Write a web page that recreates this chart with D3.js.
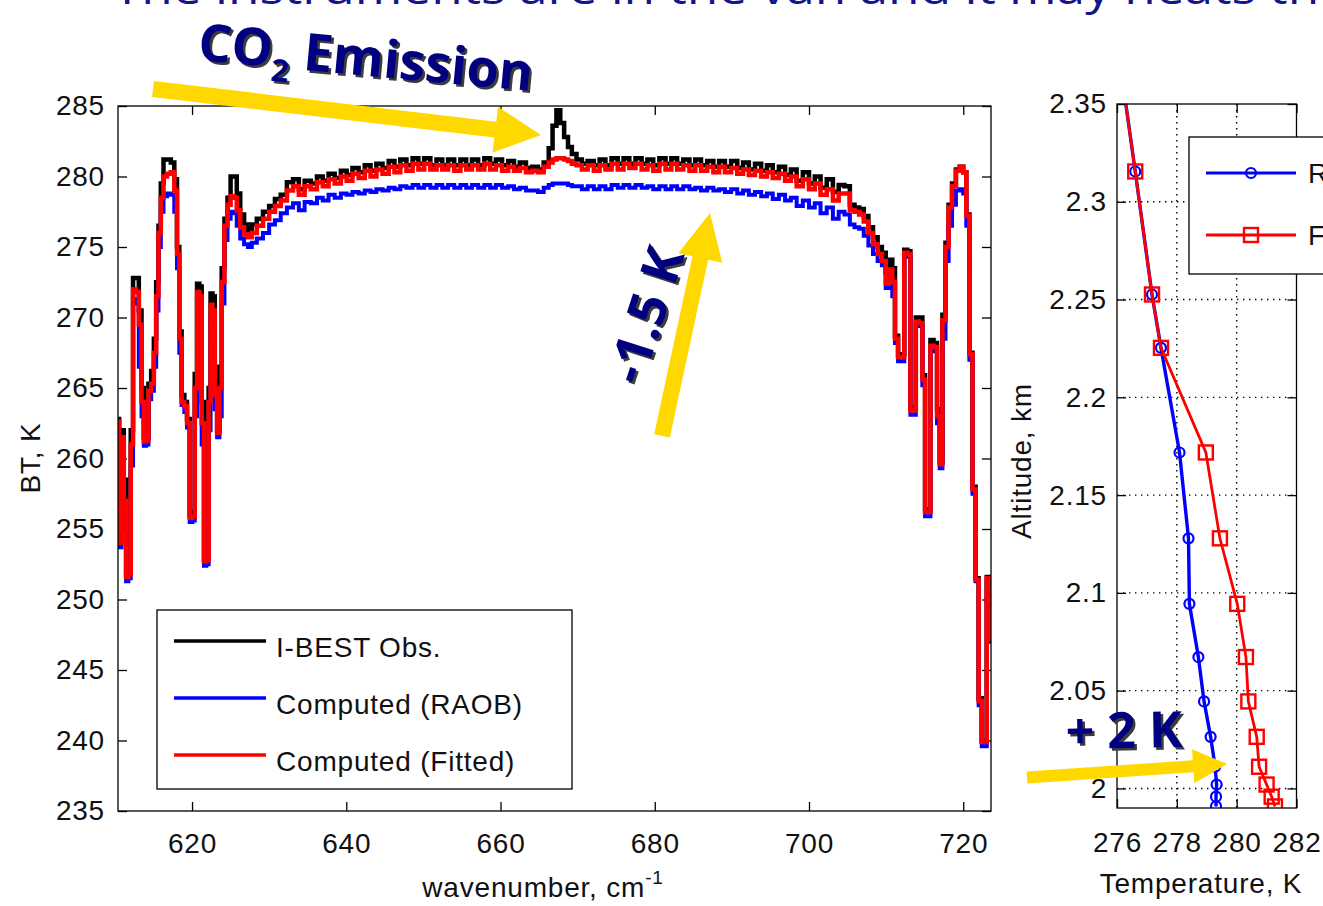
<!DOCTYPE html>
<html>
<head>
<meta charset="utf-8">
<script src="https://cdnjs.cloudflare.com/ajax/libs/d3/7.8.5/d3.min.js"></script>
<style>
  body { margin: 0; background: #fff; }
  svg { display: block; }
</style>
</head>
<body>
<svg id="fig" width="1323" height="906"></svg>
<script>
// ---- spectrum (left panel) ----
// three blocks: left absorption edge, flat CO2 band, right absorption edge
var wavenumber = [
  610.4, 610.7, 611.0, 611.3, 611.6, 611.9, 612.2, 612.5, 612.9, 613.3,
  613.6, 613.9, 614.2, 614.5, 614.9, 615.2, 615.5, 615.8, 616.1, 616.5,
  617.0, 617.5, 617.9, 618.2, 618.5, 618.8, 619.2, 619.5, 619.9, 620.2,
  620.5, 620.8, 621.1, 621.4, 621.7, 622.0, 622.3, 622.5, 622.8, 623.1,
  623.4, 623.7, 624.0, 624.4, 624.8, 625.2, 625.6, 626.0, 626.5, 627.0,
  627.5, 628.0,
  628.8, 629.6, 630.4, 631.1, 631.9, 632.7, 633.5, 634.2, 635.0, 635.8,
  636.6, 637.3, 638.1, 638.9, 639.7, 640.4, 641.2, 642.0, 642.8, 643.5,
  644.3, 645.1, 645.9, 646.6, 647.4, 648.2, 649.0, 649.7, 650.5, 651.3,
  652.1, 652.8, 653.6, 654.4, 655.2, 655.9, 656.7, 657.5, 658.3, 659.0,
  659.8, 660.6, 661.4, 662.1, 662.9, 663.7, 664.5, 665.2, 666.0, 666.5,
  667.0, 667.5, 668.0, 668.5, 669.0, 669.5, 670.2, 670.9, 671.7, 672.5,
  673.2, 674.0, 674.8, 675.6, 676.3, 677.1, 677.9, 678.7, 679.4, 680.2,
  681.0, 681.8, 682.5, 683.3, 684.1, 684.9, 685.6, 686.4, 687.2, 688.0,
  688.7, 689.5, 690.3, 691.1, 691.8, 692.6, 693.4, 694.2, 694.9, 695.7,
  696.5, 697.3, 698.0, 698.8, 699.6, 700.4, 701.1, 701.9, 702.7, 703.5,
  704.2, 705.0,
  705.6, 706.2, 706.8, 707.4, 708.0, 708.6, 709.2, 709.7, 710.2, 710.6,
  711.0, 711.3, 711.8, 712.2, 712.5, 713.0, 713.3, 713.7, 714.0, 714.5,
  714.9, 715.2, 715.6, 715.9, 716.4, 716.8, 717.1, 717.5, 717.9, 718.3,
  718.8, 719.3, 719.8, 720.2, 720.6, 721.0, 721.4, 721.8, 722.2, 722.6,
  722.9, 723.2, 723.6
];

var obsBT = [  // I-BEST Obs.
  262.8, 255.0, 262.0, 258.5, 251.8, 252.0, 262.0, 272.8, 272.8, 270.5,
  265.0, 261.5, 261.5, 265.3, 266.2, 268.5, 272.5, 276.5, 279.5, 281.2,
  281.2, 281.0, 279.8, 275.0, 269.0, 264.5, 264.0, 262.8, 256.0, 256.2,
  266.0, 272.4, 272.2, 264.0, 252.8, 253.0, 265.0, 271.7, 271.5, 265.5,
  262.0, 266.5, 273.5, 277.0, 278.5, 280.0, 280.0, 278.8, 277.3, 276.6,
  276.2, 276.6,
  277.0, 277.5, 277.9, 278.4, 278.7, 279.6, 279.8, 279.1, 279.7, 279.5,
  280.0, 279.7, 280.2, 279.9, 280.4, 280.1, 280.6, 280.3, 280.8, 280.4,
  280.9, 280.6, 281.1, 280.7, 281.2, 280.8, 281.3, 280.9, 281.3, 280.8,
  281.2, 280.8, 281.2, 280.8, 281.2, 280.8, 281.2, 280.8, 281.3, 280.9,
  281.2, 280.8, 281.1, 280.7, 281.0, 280.6, 280.7, 280.5, 281.0, 282.0,
  283.6, 284.7, 283.8, 282.8, 282.1, 281.6, 281.2, 280.9, 281.1, 280.8,
  281.2, 280.8, 281.3, 280.9, 281.3, 280.9, 281.3, 280.9, 281.2, 280.8,
  281.3, 280.9, 281.3, 280.9, 281.2, 280.8, 281.2, 280.8, 281.1, 280.7,
  281.1, 280.7, 281.1, 280.6, 281.0, 280.5, 280.9, 280.4, 280.8, 280.3,
  280.7, 280.1, 280.5, 279.7, 280.3, 279.5, 280.0, 279.2, 279.8, 278.9,
  279.4, 279.3,
  278.0, 277.8, 277.7, 277.2, 276.4, 275.7, 275.0, 274.6, 273.2, 274.1,
  273.5, 268.7, 267.3, 267.4, 274.8, 274.7, 263.6, 263.6, 270.0, 270.0,
  265.9, 256.4, 256.4, 268.4, 268.2, 263.5, 259.8, 270.2, 275.3, 278.0,
  279.5, 280.5, 280.7, 280.3, 277.3, 267.5, 258.0, 251.5, 243.0, 240.0,
  240.0, 251.6, 247.5
];

var raobBT = [  // Computed (RAOB)
  261.5, 253.7, 259.0, 255.5, 251.3, 251.5, 259.5, 271.3, 271.0, 266.5,
  263.0, 260.9, 261.0, 264.2, 264.8, 266.5, 270.5, 275.0, 277.5, 278.6,
  278.8, 278.7, 277.5, 273.5, 267.5, 263.8, 263.3, 262.2, 255.5, 255.6,
  263.0, 271.0, 270.8, 261.0, 252.4, 252.5, 262.0, 270.2, 269.8, 263.5,
  261.5, 263.0, 271.0, 275.5, 277.0, 277.5, 277.4, 276.5, 275.6, 275.2,
  275.0, 275.3,
  275.6, 276.0, 276.6, 276.9, 277.4, 277.8, 278.1, 277.6, 278.2, 278.1,
  278.5, 278.3, 278.7, 278.5, 278.8, 278.7, 278.9, 278.8, 279.0, 278.9,
  279.1, 279.0, 279.2, 279.1, 279.3, 279.2, 279.4, 279.2, 279.4, 279.2,
  279.4, 279.2, 279.4, 279.2, 279.4, 279.2, 279.4, 279.2, 279.4, 279.2,
  279.4, 279.2, 279.3, 279.1, 279.2, 279.0, 279.0, 278.9, 279.2, 279.4,
  279.5, 279.5, 279.5, 279.5, 279.4, 279.3, 279.3, 279.1, 279.3, 279.1,
  279.3, 279.1, 279.4, 279.2, 279.4, 279.2, 279.4, 279.2, 279.3, 279.1,
  279.3, 279.1, 279.3, 279.1, 279.3, 279.1, 279.2, 279.0, 279.2, 279.0,
  279.1, 278.9, 279.1, 278.8, 279.0, 278.7, 278.9, 278.6, 278.8, 278.4,
  278.7, 278.3, 278.5, 277.9, 278.3, 277.8, 278.1, 277.4, 277.8, 277.0,
  277.5, 277.3,
  276.6, 276.4, 276.3, 275.8, 275.1, 274.5, 274.0, 273.7, 272.1, 272.8,
  271.5, 268.2, 266.9, 266.9, 274.4, 274.3, 263.1, 263.1, 269.5, 269.4,
  265.2, 255.9, 255.9, 267.7, 267.6, 262.5, 259.3, 268.5, 274.0, 276.5,
  278.0, 279.0, 279.1, 278.8, 276.5, 267.0, 257.5, 251.3, 242.5, 239.6,
  239.6, 251.2, 247.0
];

var fitBT = [  // Computed (Fitted)
  262.6, 254.0, 261.5, 257.0, 251.6, 251.8, 261.0, 272.0, 271.8, 269.5,
  264.0, 261.2, 261.3, 264.8, 265.3, 267.5, 271.5, 276.0, 278.5, 280.0,
  280.2, 280.3, 279.0, 274.5, 268.5, 264.0, 263.7, 262.5, 255.8, 255.9,
  265.0, 271.8, 271.5, 262.5, 252.7, 252.8, 264.0, 270.9, 270.5, 264.5,
  261.8, 265.0, 272.5, 276.5, 278.0, 278.6, 278.5, 277.6, 276.4, 275.9,
  275.7, 276.0,
  276.5, 277.0, 277.5, 277.9, 278.3, 279.0, 279.3, 278.7, 279.3, 279.1,
  279.6, 279.3, 279.8, 279.5, 280.0, 279.7, 280.2, 279.9, 280.4, 280.0,
  280.5, 280.2, 280.7, 280.3, 280.8, 280.4, 280.9, 280.5, 280.9, 280.5,
  280.8, 280.5, 280.8, 280.4, 280.8, 280.5, 280.8, 280.5, 280.9, 280.5,
  280.8, 280.4, 280.7, 280.4, 280.6, 280.3, 280.4, 280.3, 280.7, 281.0,
  281.2, 281.3, 281.3, 281.2, 281.1, 280.9, 280.8, 280.5, 280.8, 280.4,
  280.8, 280.5, 280.9, 280.5, 280.9, 280.6, 280.9, 280.5, 280.8, 280.4,
  280.9, 280.5, 280.9, 280.5, 280.8, 280.4, 280.8, 280.4, 280.7, 280.3,
  280.7, 280.3, 280.6, 280.2, 280.5, 280.1, 280.4, 280.0, 280.3, 279.9,
  280.2, 279.7, 280.0, 279.3, 279.8, 279.1, 279.5, 278.7, 279.1, 278.3,
  278.8, 278.8,
  277.6, 277.5, 277.3, 276.8, 276.0, 275.2, 274.5, 274.0, 272.4, 273.4,
  272.5, 268.5, 267.2, 267.2, 274.6, 274.5, 263.4, 263.4, 269.7, 269.6,
  265.6, 256.2, 256.2, 268.0, 267.9, 263.0, 259.6, 269.8, 275.0, 277.8,
  279.3, 280.4, 280.7, 280.3, 277.2, 267.4, 257.8, 251.4, 242.8, 239.9,
  239.9, 251.5, 247.2
];

var btTicks = [235, 240, 245, 250, 255, 260, 265, 270, 275, 280, 285];
var wnTicks = [620, 640, 660, 680, 700, 720];

// ---- temperature profile (right panel) ----
var altitude = [2.38, 2.3155, 2.2526, 2.2253, 2.1718, 2.1279, 2.0944, 2.0672, 2.0445, 2.0264, 2.0111, 2.0020, 1.9958, 1.9908];
var raobTemp = [276.02, 276.61, 277.17, 277.47, 278.09, 278.39, 278.42, 278.72, 278.91, 279.13, 279.28, 279.33, 279.31, 279.31];
var fitTemp  = [276.02, 276.61, 277.17, 277.47, 278.97, 279.44, 280.02, 280.31, 280.39, 280.67, 280.75, 281.00, 281.17, 281.28];
var altTicks = [2, 2.05, 2.1, 2.15, 2.2, 2.25, 2.3, 2.35];
var tempTicks = [276, 278, 280, 282];

var FONT = '"Liberation Sans", Arial, Helvetica, sans-serif';
var BOLD = '"Open Sans", "Noto Sans", sans-serif';
var NAVY = '#000080';
var YELLOW = '#ffd800';
var plain = function (d) { return String(d); };

var svg = d3.select('#fig');

// title of the slide, mostly cut off at the top
svg.append('text')
  .attr('x', 113).attr('y', 4)
  .attr('font-family', BOLD).attr('font-size', 44)
  .attr('fill', '#14148c')
  .attr('textLength', 1235).attr('lengthAdjust', 'spacingAndGlyphs')
  .text('The instruments are in the van and it may heats the');

function styleAxis(g) {
  g.select('.domain').remove();
  g.selectAll('.tick line').attr('stroke', '#000').attr('stroke-width', 1.3);
  g.selectAll('.tick text')
    .attr('font-family', FONT).attr('font-size', 28)
    .attr('letter-spacing', 0.8).attr('fill', '#111');
}

// ================= left panel =================
var x = d3.scaleLinear().domain([610.4, 723.6]).range([118, 991]);
var y = d3.scaleLinear().domain([235, 285]).range([811, 106]);

var left = svg.append('g');
left.append('clipPath').attr('id', 'clipL').append('rect')
  .attr('x', 118).attr('y', 106).attr('width', 873).attr('height', 705);

left.append('g').attr('transform', 'translate(0,811)')
  .call(d3.axisBottom(x).tickValues(wnTicks).tickFormat(plain).tickSize(-9).tickPadding(22)).call(styleAxis);
left.append('g').attr('transform', 'translate(0,106)')
  .call(d3.axisTop(x).tickValues(wnTicks).tickSize(-9).tickFormat('')).call(styleAxis);
left.append('g').attr('transform', 'translate(118,0)')
  .call(d3.axisLeft(y).tickValues(btTicks).tickFormat(plain).tickSize(-9).tickPadding(13)).call(styleAxis);
left.append('g').attr('transform', 'translate(991,0)')
  .call(d3.axisRight(y).tickValues(btTicks).tickSize(-9).tickFormat('')).call(styleAxis);

var spectra = [
  {name: 'I-BEST Obs.', values: obsBT, color: '#000000', width: 4.5},
  {name: 'Computed (RAOB)', values: raobBT, color: '#0000ff', width: 4},
  {name: 'Computed (Fitted)', values: fitBT, color: '#ff0000', width: 4.5}
];

var specLine = d3.line()
  .curve(d3.curveStep)
  .x(function (d) { return x(d[0]); })
  .y(function (d) { return y(d[1]); });

var plotL = left.append('g').attr('clip-path', 'url(#clipL)');
spectra.forEach(function (s) {
  plotL.append('path')
    .datum(wavenumber.map(function (w, i) { return [w, s.values[i]]; }))
    .attr('d', specLine)
    .attr('fill', 'none')
    .attr('stroke', s.color)
    .attr('stroke-width', s.width)
    .attr('stroke-linejoin', 'miter');
});

left.append('rect')
  .attr('x', 118).attr('y', 106).attr('width', 873).attr('height', 705)
  .attr('fill', 'none').attr('stroke', '#000').attr('stroke-width', 1.3);

// legend
var legL = left.append('g');
legL.append('rect').attr('x', 157).attr('y', 610).attr('width', 415).attr('height', 179)
  .attr('fill', '#fff').attr('stroke', '#000').attr('stroke-width', 1.3);
spectra.forEach(function (s, i) {
  var ly = 641 + i * 57;
  legL.append('line').attr('x1', 174).attr('x2', 266).attr('y1', ly).attr('y2', ly)
    .attr('stroke', s.color).attr('stroke-width', 3.5);
  legL.append('text').attr('x', 276).attr('y', ly + 16)
    .attr('font-family', FONT).attr('font-size', 28).attr('letter-spacing', 0.8)
    .attr('fill', '#111').text(s.name);
});

// axis labels
left.append('text')
  .attr('transform', 'translate(40,458) rotate(-90)')
  .attr('text-anchor', 'middle')
  .attr('font-family', FONT).attr('font-size', 28).attr('letter-spacing', 0.8)
  .attr('fill', '#111').text('BT, K');

var xl = left.append('text')
  .attr('x', 543).attr('y', 897)
  .attr('text-anchor', 'middle')
  .attr('font-family', FONT).attr('font-size', 28).attr('letter-spacing', 0.8)
  .attr('fill', '#111');
xl.append('tspan').text('wavenumber, cm');
xl.append('tspan').attr('dy', -13).attr('font-size', 19).text('-1');

// ================= right panel =================
var xr = d3.scaleLinear().domain([276, 282]).range([1117, 1296.5]);
var yr = d3.scaleLinear().domain([1.99, 2.35]).range([808, 104]);

var right = svg.append('g');
right.append('clipPath').attr('id', 'clipR').append('rect')
  .attr('x', 1117).attr('y', 104).attr('width', 179.5).attr('height', 704);

// dotted grid
var grid = right.append('g');
grid.selectAll('line.gx')
  .data(tempTicks.slice(1, -1)).enter().append('line').attr('class', 'gx')
  .attr('x1', function (d) { return xr(d); }).attr('x2', function (d) { return xr(d); })
  .attr('y1', 104).attr('y2', 808);
grid.selectAll('line.gy')
  .data(altTicks.slice(0, -1)).enter().append('line').attr('class', 'gy')
  .attr('x1', 1117).attr('x2', 1296.5)
  .attr('y1', function (d) { return yr(d); }).attr('y2', function (d) { return yr(d); });
grid.selectAll('line')
  .attr('stroke', '#000').attr('stroke-width', 1.4).attr('stroke-dasharray', '1.4,4.6');

right.append('g').attr('transform', 'translate(0,808)')
  .call(d3.axisBottom(xr).tickValues(tempTicks).tickFormat(plain).tickSize(-9).tickPadding(24)).call(styleAxis);
right.append('g').attr('transform', 'translate(0,104)')
  .call(d3.axisTop(xr).tickValues(tempTicks).tickSize(-9).tickFormat('')).call(styleAxis);
right.append('g').attr('transform', 'translate(1117,0)')
  .call(d3.axisLeft(yr).tickValues(altTicks).tickSize(-9).tickPadding(10).tickFormat(plain)).call(styleAxis);
right.append('g').attr('transform', 'translate(1296.5,0)')
  .call(d3.axisRight(yr).tickValues(altTicks).tickSize(-9).tickFormat('')).call(styleAxis);

var profLine = d3.line()
  .x(function (d) { return xr(d[0]); })
  .y(function (d) { return yr(d[1]); });

var plotR = right.append('g').attr('clip-path', 'url(#clipR)');
var raobPts = raobTemp.map(function (t, i) { return [t, altitude[i]]; });
var fitPts = fitTemp.map(function (t, i) { return [t, altitude[i]]; });

plotR.append('path').datum(raobPts).attr('d', profLine)
  .attr('fill', 'none').attr('stroke', '#0000ff').attr('stroke-width', 3.4);
plotR.selectAll('circle.raob').data(raobPts).enter().append('circle')
  .attr('cx', function (d) { return xr(d[0]); })
  .attr('cy', function (d) { return yr(d[1]); })
  .attr('r', 5).attr('fill', 'none').attr('stroke', '#0000ff').attr('stroke-width', 2.2);

plotR.append('path').datum(fitPts).attr('d', profLine)
  .attr('fill', 'none').attr('stroke', '#ff0000').attr('stroke-width', 2.8);
plotR.selectAll('rect.fit').data(fitPts).enter().append('rect')
  .attr('x', function (d) { return xr(d[0]) - 7; })
  .attr('y', function (d) { return yr(d[1]) - 7; })
  .attr('width', 14).attr('height', 14)
  .attr('fill', 'none').attr('stroke', '#ff0000').attr('stroke-width', 2.4);

right.append('rect')
  .attr('x', 1117).attr('y', 104).attr('width', 179.5).attr('height', 704)
  .attr('fill', 'none').attr('stroke', '#000').attr('stroke-width', 1.3);

// legend (runs off the right edge of the slide)
var legR = right.append('g');
legR.append('rect').attr('x', 1189).attr('y', 137).attr('width', 220).attr('height', 137)
  .attr('fill', '#fff').attr('stroke', '#000').attr('stroke-width', 1.3);
[{name: 'RAOB', color: '#0000ff', y: 173, mark: 'circle'},
 {name: 'Fitted', color: '#ff0000', y: 235, mark: 'square'}].forEach(function (e) {
  legR.append('line').attr('x1', 1206).attr('x2', 1296).attr('y1', e.y).attr('y2', e.y)
    .attr('stroke', e.color).attr('stroke-width', 3);
  if (e.mark === 'circle') {
    legR.append('circle').attr('cx', 1251).attr('cy', e.y).attr('r', 5)
      .attr('fill', 'none').attr('stroke', e.color).attr('stroke-width', 2.2);
  } else {
    legR.append('rect').attr('x', 1244).attr('y', e.y - 7).attr('width', 14).attr('height', 14)
      .attr('fill', 'none').attr('stroke', e.color).attr('stroke-width', 2.4);
  }
  legR.append('text').attr('x', 1308).attr('y', e.y + 10)
    .attr('font-family', FONT).attr('font-size', 28).attr('fill', '#111').text(e.name);
});

right.append('text')
  .attr('transform', 'translate(1031,461) rotate(-90)')
  .attr('text-anchor', 'middle')
  .attr('font-family', FONT).attr('font-size', 28).attr('letter-spacing', 0.8)
  .attr('fill', '#111').text('Altitude, km');
right.append('text')
  .attr('x', 1201).attr('y', 893)
  .attr('text-anchor', 'middle')
  .attr('font-family', FONT).attr('font-size', 28).attr('letter-spacing', 0.8)
  .attr('fill', '#111').text('Temperature, K');

// ================= annotations =================
var annot = svg.append('g');

function arrow(p0, p1, sw, hw, hl) {
  var dx = p1[0] - p0[0], dy = p1[1] - p0[1];
  var len = Math.sqrt(dx * dx + dy * dy);
  var ux = dx / len, uy = dy / len, nx = -uy, ny = ux;
  var bx = p1[0] - ux * hl, by = p1[1] - uy * hl;
  var pts = [
    [p0[0] + nx * sw / 2, p0[1] + ny * sw / 2],
    [bx + nx * sw / 2, by + ny * sw / 2],
    [bx + nx * hw / 2, by + ny * hw / 2],
    [p1[0], p1[1]],
    [bx - nx * hw / 2, by - ny * hw / 2],
    [bx - nx * sw / 2, by - ny * sw / 2],
    [p0[0] - nx * sw / 2, p0[1] - ny * sw / 2]
  ];
  annot.append('polygon').attr('points', pts.map(function (p) { return p.join(','); }).join(' '))
    .attr('fill', YELLOW);
}

// arrow ends given in data units of each panel
arrow([x(614.94), y(286.21)], [x(665.25), y(282.94)], 16, 46, 46);
arrow([x(680.94), y(261.6)], [x(687.16), y(277.41)], 16, 45, 46);
arrow([xr(272.99), yr(2.0056)], [xr(279.68), yr(2.0125)], 12, 34, 34);

function boldLabel(parts, px, py, angle, anchor) {
  [[2.5, 2.5, '#3c3c3c'], [0, 0, NAVY]].forEach(function (o) {
    var t = annot.append('text')
      .attr('transform', 'translate(' + (px + o[0]) + ',' + (py + o[1]) + ') rotate(' + angle + ')')
      .attr('text-anchor', anchor)
      .attr('font-family', BOLD).attr('font-weight', 'bold')
      .attr('fill', o[2]);
    parts.forEach(function (p) {
      t.append('tspan').attr('font-size', p.size).attr('dy', p.dy || 0).text(p.text);
    });
  });
}

boldLabel([{text: 'CO', size: 52}, {text: '2', size: 31, dy: 14}, {text: ' Emission', size: 52, dy: -14}],
  197, 60, 5.3, 'start');
boldLabel([{text: '-1.5 K', size: 52, dy: '0.35em'}], 646, 315, -72, 'middle');
boldLabel([{text: '+ 2 K', size: 50}], 1066, 749, -1, 'start');
</script>
</body>
</html>
